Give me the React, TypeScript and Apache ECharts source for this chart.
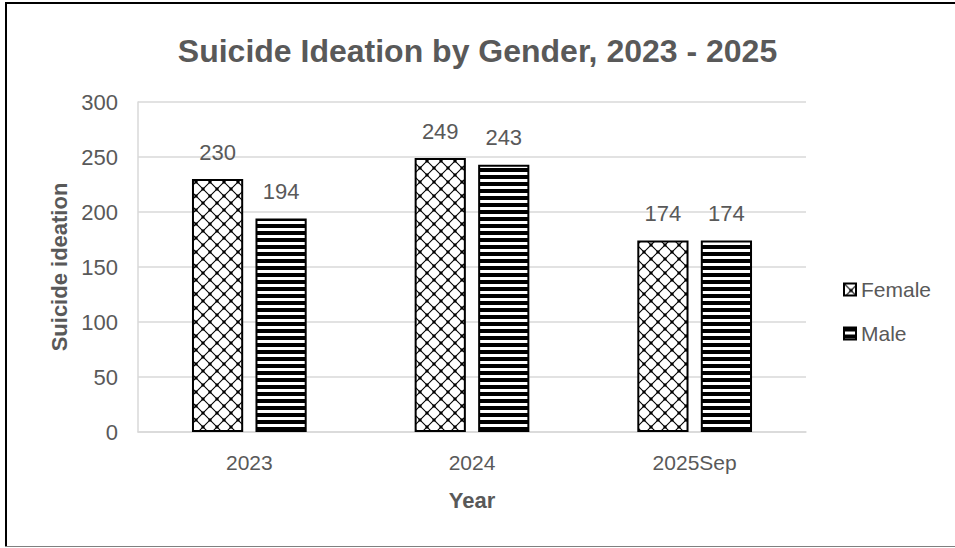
import React, { useEffect, useRef } from "react";
import * as echarts from "echarts";

const years = ["2023", "2024", "2025Sep"];
const female = [230, 249, 174];
const male = [194, 243, 174];
const yTicks = { min: 0, max: 300, interval: 50 };

const FONT = "'Liberation Sans', 'DejaVu Sans', sans-serif";
const GRAY = "#595959";

// Lattice of crossing diagonals for the Female bars
function latticeTile(): HTMLCanvasElement {
  const c = document.createElement("canvas");
  const s = 14;
  c.width = s;
  c.height = s;
  const g = c.getContext("2d")!;
  g.fillStyle = "#ffffff";
  g.fillRect(0, 0, s, s);
  g.strokeStyle = "#000000";
  g.lineWidth = 1.1;
  g.beginPath();
  g.moveTo(0, 0);
  g.lineTo(s, s);
  g.moveTo(s, 0);
  g.lineTo(0, s);
  g.stroke();
  g.fillStyle = "#000000";
  g.fillRect(s / 2 - 1.5, s / 2 - 1.5, 3, 3);
  g.fillRect(-1.5, -1.5, 3, 3);
  g.fillRect(s - 1.5, -1.5, 3, 3);
  g.fillRect(-1.5, s - 1.5, 3, 3);
  g.fillRect(s - 1.5, s - 1.5, 3, 3);
  return c;
}

// Horizontal stripes for the Male bars
function stripeTile(): HTMLCanvasElement {
  const c = document.createElement("canvas");
  c.width = 8;
  c.height = 7;
  const g = c.getContext("2d")!;
  g.fillStyle = "#ffffff";
  g.fillRect(0, 0, 8, 7);
  g.fillStyle = "#000000";
  g.fillRect(0, 0, 8, 4);
  return c;
}

export default function App() {
  const ref = useRef<HTMLDivElement>(null);

  useEffect(() => {
    document.body.style.margin = "0";
    const chart = echarts.init(ref.current!, undefined, { renderer: "svg" });
    const femaleFill = { image: latticeTile(), repeat: "repeat" as const };
    const maleFill = { image: stripeTile(), repeat: "repeat" as const };

    const label = {
      show: true,
      position: "top" as const,
      distance: 16,
      color: GRAY,
      fontSize: 22,
      fontFamily: FONT,
    };

    chart.setOption({
      animation: false,
      backgroundColor: "#ffffff",
      title: {
        text: "Suicide Ideation by Gender, 2023 - 2025",
        left: "center",
        top: 30,
        textStyle: { color: GRAY, fontSize: 32, fontWeight: "bold", fontFamily: FONT },
      },
      legend: {
        orient: "vertical",
        left: 838,
        top: 274,
        itemWidth: 12,
        itemHeight: 12,
        itemGap: 23,
        icon: "rect",
        textStyle: { color: GRAY, fontSize: 21, fontFamily: FONT },
        data: ["Female", "Male"],
      },
      grid: { left: 138, right: 149, top: 102, bottom: 116 },
      xAxis: {
        type: "category",
        data: years,
        name: "Year",
        nameLocation: "middle",
        nameGap: 57,
        nameTextStyle: { color: GRAY, fontSize: 22, fontWeight: "bold", fontFamily: FONT },
        axisLine: { lineStyle: { color: "#d9d9d9", width: 1.5 } },
        axisTick: { show: false },
        axisLabel: { color: GRAY, fontSize: 21, fontFamily: FONT, margin: 20 },
      },
      yAxis: {
        type: "value",
        min: yTicks.min,
        max: yTicks.max,
        interval: yTicks.interval,
        name: "Suicide ideation",
        nameLocation: "middle",
        nameGap: 67,
        nameTextStyle: { color: GRAY, fontSize: 22, fontWeight: "bold", fontFamily: FONT },
        axisLine: { show: true, lineStyle: { color: "#d9d9d9", width: 1.5 } },
        axisTick: { show: false },
        axisLabel: { color: GRAY, fontSize: 22, fontFamily: FONT, margin: 20 },
        splitLine: { lineStyle: { color: "#d9d9d9", width: 1.5 } },
      },
      series: [
        {
          name: "Female",
          type: "bar",
          data: female,
          barWidth: "23%",
          barGap: "24%",
          itemStyle: { color: femaleFill, borderColor: "#000000", borderWidth: 2 },
          label,
        },
        {
          name: "Male",
          type: "bar",
          data: male,
          barWidth: "23%",
          itemStyle: { color: maleFill, borderColor: "#000000", borderWidth: 2 },
          label,
        },
      ],
      graphic: [
        {
          type: "polyline",
          silent: true,
          shape: { points: [[6, 546], [6, 3], [955, 3]] },
          style: { fill: "none", stroke: "#000000", lineWidth: 2 },
        },
        {
          type: "line",
          silent: true,
          shape: { x1: 5, y1: 546.5, x2: 955, y2: 546.5 },
          style: { stroke: "#7f7f7f", lineWidth: 1 },
        },
      ],
    });
    return () => chart.dispose();
  }, []);

  return (
    <div
      ref={ref}
      style={{ position: "absolute", left: 0, top: 0, width: 955, height: 548 }}
    />
  );
}
